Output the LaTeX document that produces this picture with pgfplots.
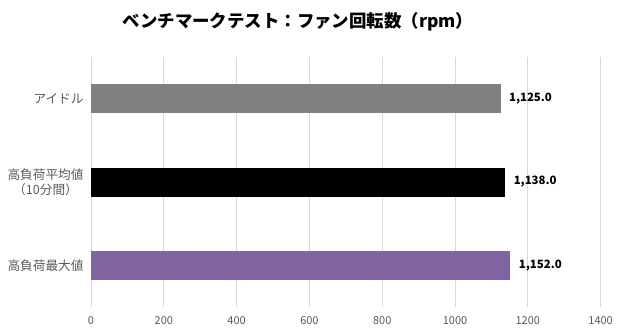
\documentclass[border=0pt]{standalone}
\usepackage{fontspec}
\setmainfont{Noto Sans CJK JP}
\usepackage{pgfplots}
\pgfplotsset{compat=1.18}
\definecolor{gridc}{HTML}{D9D9D9}
\definecolor{txtc}{HTML}{595959}
\definecolor{barA}{HTML}{808080}
\definecolor{barC}{HTML}{8064A2}
\begin{document}
\begin{tikzpicture}[x=1bp,y=1bp]
\path[use as bounding box] (0,0) rectangle (620,335);
\node[font=\bfseries\fontsize{17.5}{20}\selectfont] at (298,313) {ベンチマークテスト：ファン回転数（rpm）};
\begin{axis}[
  at={(91bp,28bp)}, anchor=south west,
  scale only axis, width=509.6bp, height=250bp,
  xmin=0, xmax=1400, xtick={0,200,...,1400},
  ymin=-0.5, ymax=2.5, y dir=reverse,
  ytick={0,1,2},
  yticklabels={アイドル,{高負荷平均値\\（10分間）},高負荷最大値},
  yticklabel style={align=center, font=\fontsize{12.7}{15}\selectfont, text=txtc, xshift=-4bp},
  xticklabel style={font=\fontsize{11}{13}\selectfont, text=txtc, yshift=-6bp},
  /pgf/number format/assume math mode=true,
  xticklabel={\pgfmathprintnumber[1000 sep={}]{\tick}},
  axis line style={draw=none},
  major tick length=0pt,
  xmajorgrids, grid style={gridc, line width=0.8pt},
  xbar, bar width=29bp, bar shift=0pt,
  nodes near coords={\pgfmathprintnumber[fixed,precision=1,zerofill,1000 sep={,}]{\pgfplotspointmeta}},
  nodes near coords style={font=\bfseries\fontsize{11.5}{13}\selectfont, text=black, anchor=west, xshift=5bp},
  point meta=x,
  clip=false,
]
\addplot[fill=barA, draw=none] coordinates {(1125,0)};
\addplot[fill=black, draw=none] coordinates {(1138,1)};
\addplot[fill=barC, draw=none] coordinates {(1152,2)};
\end{axis}
\end{tikzpicture}
\end{document}
